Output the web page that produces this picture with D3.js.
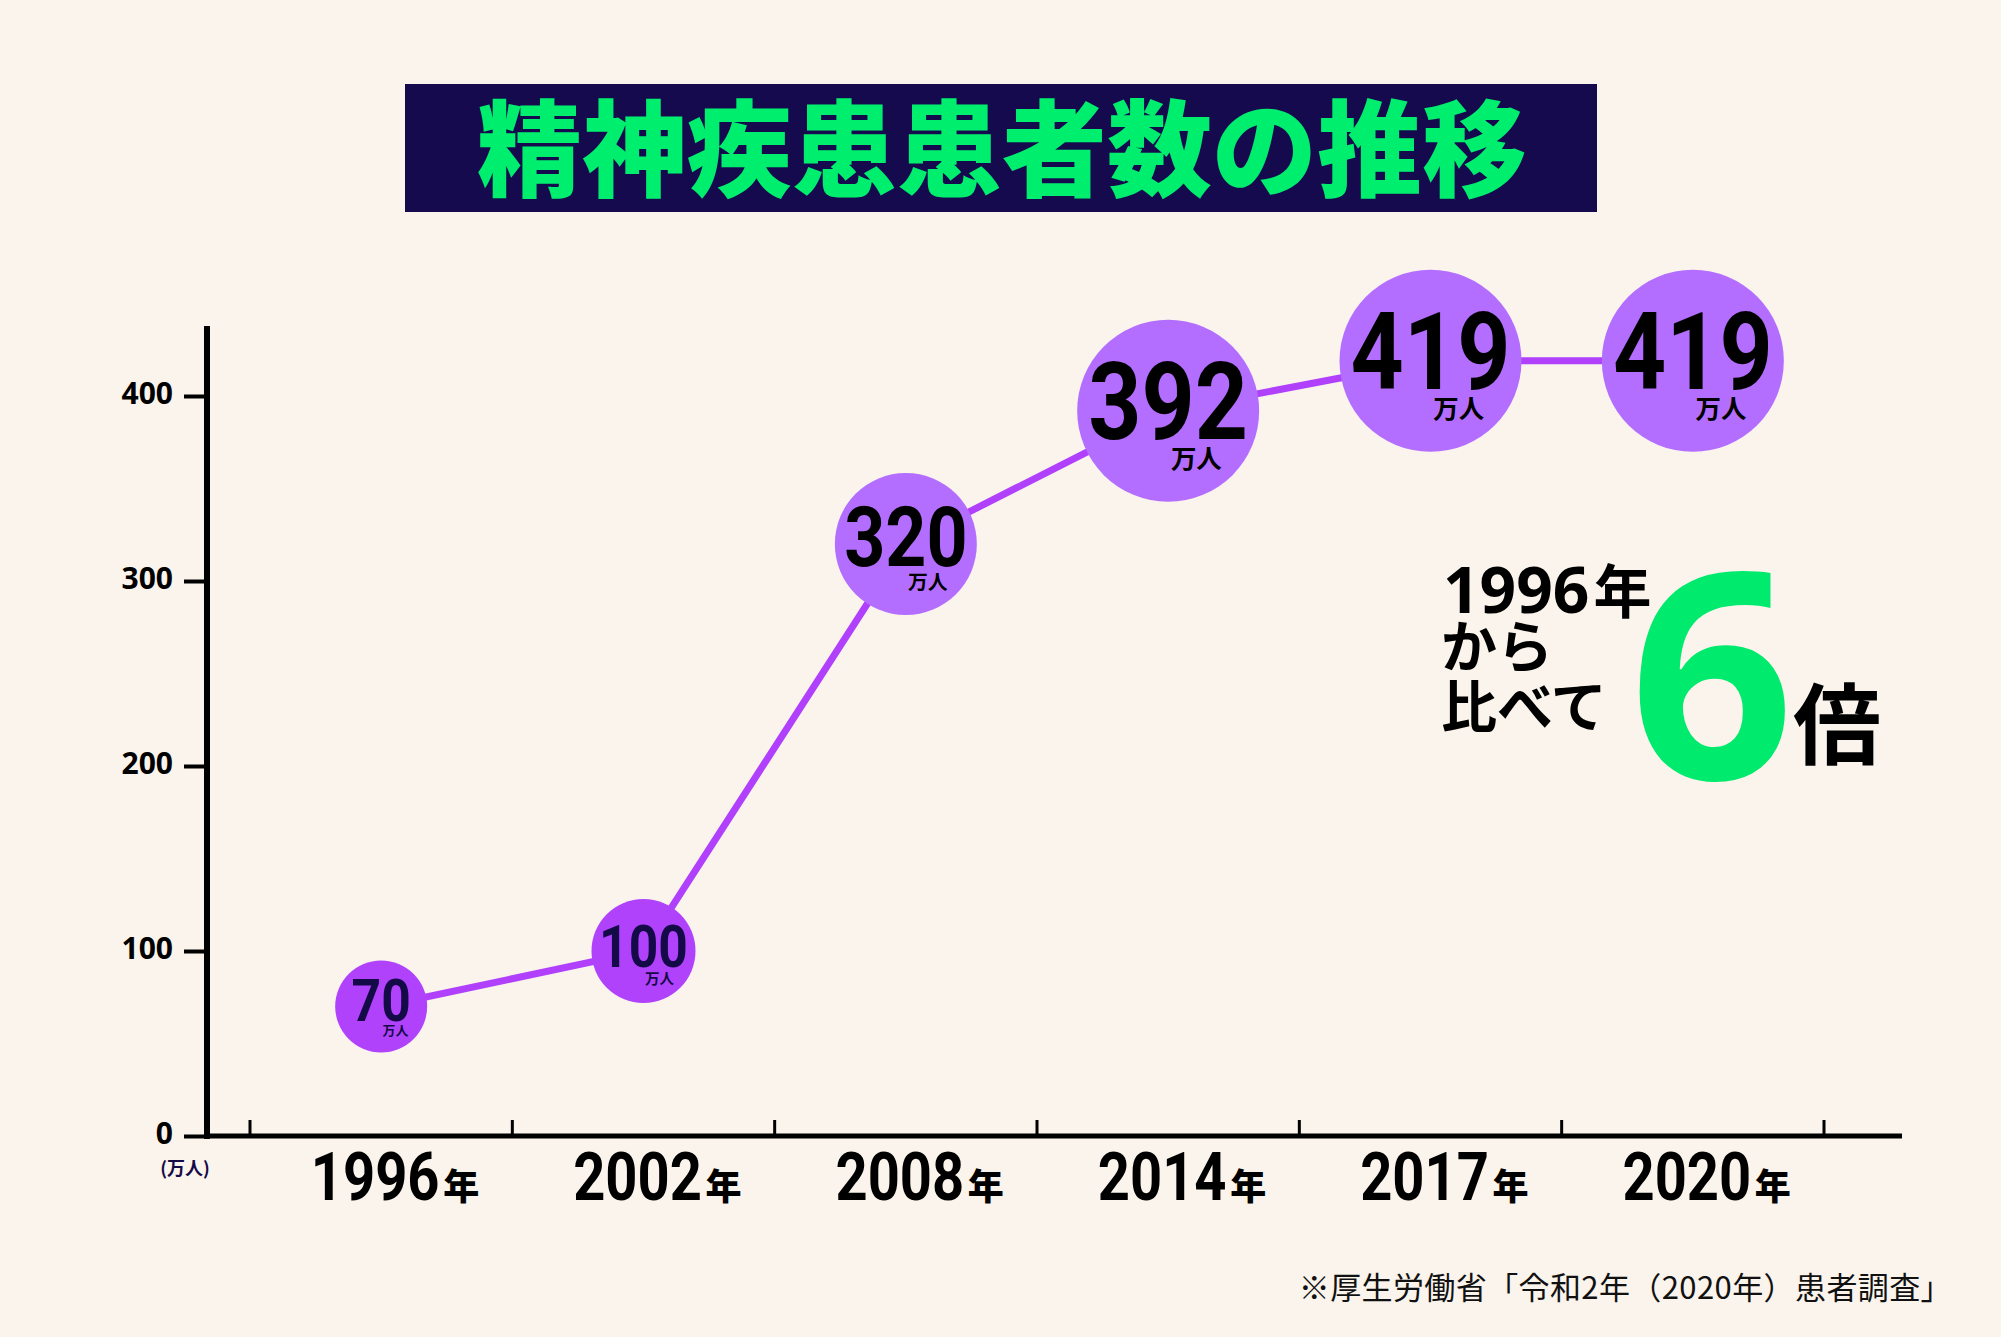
<!DOCTYPE html>
<html lang="ja">
<head>
<meta charset="utf-8">
<script src="https://cdn.jsdelivr.net/npm/d3@7"></script>
<style>
  html, body { margin: 0; padding: 0; background: #faf4ec; }
  svg { display: block; }
</style>
</head>
<body>
<script>
// ---- data ----
const titleText = "精神疾患患者数の推移";
const years = ["1996", "2002", "2008", "2014", "2017", "2020"];
const patients = [70, 100, 320, 392, 419, 419];
const yTicks = [0, 100, 200, 300, 400];
const unitLabel = "万人";
const yUnit = "(万人)";
const yearSuffix = "年";
const noteLines = ["から", "比べて"];
const noteYear = "1996";
const ratio = "6";
const ratioSuffix = "倍";
const sourceText = "※厚生労働省「令和2年（2020年）患者調査」";

// ---- setup ----
const W = 2001, H = 1337;
const svg = d3.select("body").append("svg").attr("width", W).attr("height", H);
svg.append("rect").attr("width", W).attr("height", H).attr("fill", "#faf4ec");

const CJK = "'Noto Sans CJK JP', 'Noto Sans', sans-serif";
const NUM = "Roboto, 'Liberation Sans Narrow', sans-serif";

// ---- title ----
svg.append("rect").attr("x", 405).attr("y", 84).attr("width", 1192).attr("height", 128).attr("fill", "#160a4f");
svg.append("text")
  .attr("x", 1002).attr("y", 188)
  .attr("text-anchor", "middle")
  .attr("font-family", CJK).attr("font-weight", 900).attr("font-size", 105)
  .attr("fill", "#00ee6e")
  .text(titleText);

// ---- scales ----
const x = d3.scaleBand().domain(years).range([250, 1824]);
const y = d3.scaleLinear().domain([0, 400]).range([1136, 396]);
const rScale = d3.scaleLinear().domain([70, 100, 320, 392]).range([46, 52, 71, 91]).clamp(true);
const fScale = d3.scaleLinear().domain([52, 91]).range([60, 108]).clamp(true);
const fill = d3.scaleThreshold().domain([200]).range(["#b142fc", "#b46eff"]);
const ink = d3.scaleThreshold().domain([200]).range(["#150a48", "#000000"]);
const cx = yr => x(yr) + x.bandwidth() / 2;

// ---- y axis ----
const yAxis = d3.axisLeft(y).tickValues(yTicks).tickSize(23).tickPadding(11);
const gy = svg.append("g").attr("transform", "translate(207,0)").call(yAxis);
gy.select(".domain").remove();
gy.selectAll(".tick line").attr("stroke", "#000").attr("stroke-width", 4);
gy.selectAll(".tick text")
  .attr("font-family", "'Noto Sans', sans-serif").attr("font-weight", 700).attr("font-size", 30)
  .attr("fill", "#000").attr("dy", "0.25em");

svg.append("line").attr("x1", 207).attr("x2", 207).attr("y1", 1139).attr("y2", 326)
  .attr("stroke", "#000").attr("stroke-width", 6);
svg.append("text").attr("x", 185).attr("y", 1175).attr("text-anchor", "middle")
  .attr("font-family", CJK).attr("font-weight", 700).attr("font-size", 18).attr("fill", "#150a48")
  .text(yUnit);

// ---- x axis ----
svg.append("line").attr("x1", 204).attr("x2", 1902).attr("y1", y(0)).attr("y2", y(0))
  .attr("stroke", "#000").attr("stroke-width", 5);
const bounds = d3.range(years.length + 1).map(i => x.range()[0] + i * x.step());
svg.selectAll("line.xtick").data(bounds).join("line").attr("class", "xtick")
  .attr("x1", d => d).attr("x2", d => d).attr("y1", y(0)).attr("y2", y(0) - 16)
  .attr("stroke", "#000").attr("stroke-width", 3);

const xg = svg.selectAll("g.xlab").data(years).join("g").attr("class", "xlab");
xg.append("text")
  .attr("transform", d => `translate(${cx(d) - 6},1200) scale(0.85,1)`)
  .attr("text-anchor", "middle")
  .attr("font-family", NUM).attr("font-weight", 700).attr("font-size", 66).attr("fill", "#000")
  .text(d => d);
xg.append("text")
  .attr("x", d => cx(d) + 62).attr("y", 1200)
  .attr("font-family", CJK).attr("font-weight", 900).attr("font-size", 36).attr("fill", "#000")
  .text(yearSuffix);

// ---- line ----
const line = d3.line().x((d, i) => cx(years[i])).y(d => y(d));
svg.append("path").datum(patients).attr("d", line)
  .attr("fill", "none").attr("stroke", "#b040fc").attr("stroke-width", 7);

// ---- circles & labels ----
const pts = patients.map((v, i) => ({ v, yr: years[i] }));
svg.selectAll("circle.pt").data(pts).join("circle").attr("class", "pt")
  .attr("cx", d => cx(d.yr)).attr("cy", d => y(d.v)).attr("r", d => rScale(d.v))
  .attr("fill", d => fill(d.v));

svg.selectAll("text.val").data(pts).join("text").attr("class", "val")
  .attr("transform", d => `translate(${cx(d.yr)},${y(d.v) + 0.31 * rScale(d.v)}) scale(0.86,1)`)
  .attr("text-anchor", "middle")
  .attr("font-family", NUM).attr("font-weight", 700)
  .attr("font-size", d => fScale(rScale(d.v)))
  .attr("fill", d => ink(d.v))
  .text(d => d.v);

svg.selectAll("text.unit").data(pts).join("text").attr("class", "unit")
  .attr("x", d => cx(d.yr) + 0.03 * rScale(d.v)).attr("y", d => y(d.v) + 0.63 * rScale(d.v))
  .attr("text-anchor", "start")
  .attr("font-family", CJK).attr("font-weight", 700)
  .attr("font-size", d => 0.28 * rScale(d.v))
  .attr("fill", d => ink(d.v))
  .text(unitLabel);

// ---- annotation ----
const note = svg.append("g");
const l1 = note.append("text").attr("x", 1443).attr("y", 613).attr("fill", "#000");
l1.append("tspan").attr("font-family", "'Noto Sans', sans-serif").attr("font-weight", 700).attr("font-size", 64).text(noteYear);
l1.append("tspan").attr("dx", 4).attr("font-family", CJK).attr("font-weight", 700).attr("font-size", 58).text(yearSuffix);
note.selectAll("text.nl").data(noteLines).join("text").attr("class", "nl")
  .attr("x", 1441).attr("y", (d, i) => 667 + i * 60)
  .attr("font-family", CJK).attr("font-weight", 700).attr("font-size", 56).attr("fill", "#000")
  .text(d => d);
note.append("text").attr("x", 1712).attr("y", 779).attr("text-anchor", "middle")
  .attr("font-family", "'Noto Sans', sans-serif").attr("font-weight", 700).attr("font-size", 288)
  .attr("fill", "#00ea6e").text(ratio);
note.append("text").attr("x", 1793).attr("y", 757)
  .attr("font-family", CJK).attr("font-weight", 700).attr("font-size", 88).attr("fill", "#000")
  .text(ratioSuffix);

// ---- source ----
svg.append("text").attr("x", 1952).attr("y", 1299).attr("text-anchor", "end")
  .attr("font-family", CJK).attr("font-weight", 400).attr("font-size", 31).attr("letter-spacing", 0.4)
  .attr("fill", "#111")
  .text(sourceText);
</script>
</body>
</html>
